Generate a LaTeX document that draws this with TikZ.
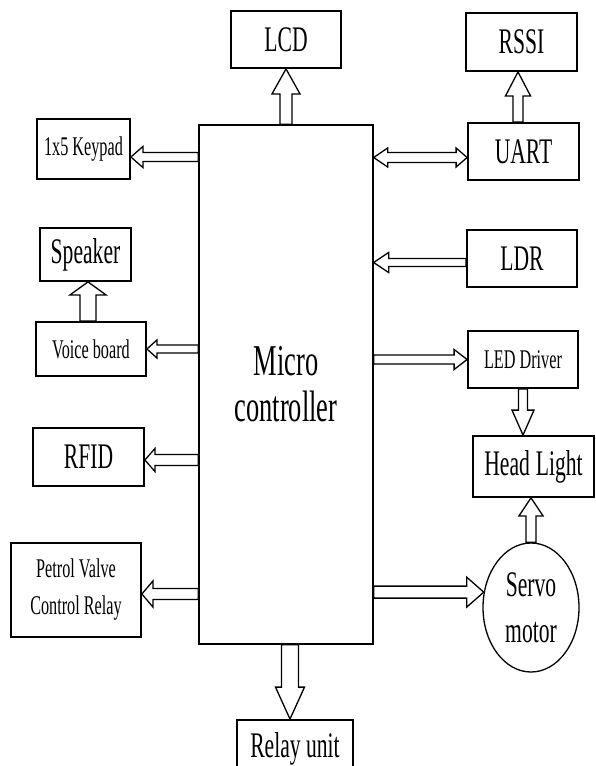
\documentclass[tikz,border=0pt]{standalone}
\usepackage{fontspec}
\setmainfont{Liberation Serif}[FakeStretch=0.6]
\usetikzlibrary{calc,shapes.geometric}

\newcommand\bigtxt{\fontsize{36}{46}\selectfont}
\newcommand\smalltxt{\fontsize{27}{37}\selectfont}
\newcommand\mctxt{\fontsize{44}{46}\selectfont}

% hollow block arrow: from #1 to #2, shaft half width #3, head half width #4, head length #5
\newcommand\blkarrow[5]{%
  \coordinate (bh) at ($(#2)!#5!(#1)$);
  \draw[arrowline] ($(#1)!#3!90:(#2)$) -- ($(bh)!#3!90:(#2)$) -- ($(bh)!#4!90:(#2)$) -- (#2)
    -- ($(bh)!#4!-90:(#2)$) -- ($(bh)!#3!-90:(#2)$) -- ($(#1)!#3!-90:(#2)$) -- cycle;
}
% same with a head at both ends, head lengths #5 and #6
\newcommand\dblarrow[6]{%
  \coordinate (ha) at ($(#1)!#5!(#2)$);
  \coordinate (hb) at ($(#2)!#6!(#1)$);
  \draw[arrowline] (#1) -- ($(ha)!#4!90:(#2)$) -- ($(ha)!#3!90:(#2)$) -- ($(hb)!#3!90:(#2)$)
    -- ($(hb)!#4!90:(#2)$) -- (#2) -- ($(hb)!#4!-90:(#2)$) -- ($(hb)!#3!-90:(#2)$)
    -- ($(ha)!#3!-90:(#2)$) -- ($(ha)!#4!-90:(#2)$) -- cycle;
}

\tikzset{
  box/.style={draw, line width=1.8pt, inner sep=0pt, align=center, font=\bigtxt},
  smallbox/.style={box, font=\smalltxt},
  arrowline/.style={draw, fill=white, line width=1.3pt, line join=miter},
}

\begin{document}
\begin{tikzpicture}[x=1pt,y=-1pt]
\useasboundingbox (0,0) rectangle (596,766);
\clip (0,0) rectangle (596,766);

\node[box, line width=1.3pt, minimum width=174pt, minimum height=519pt, font=\mctxt] (mc) at (286,384.5) {Micro\\controller};

\node[box, minimum width=110pt, minimum height=57pt] (lcd) at (286,39.5) {LCD};
\node[box, minimum width=111pt, minimum height=58pt] (rssi) at (521.5,42) {RSSI};
\node[box, minimum width=111pt, minimum height=57pt] (uart) at (523.5,151.5) {UART};
\node[box, minimum width=110pt, minimum height=57pt] (ldr) at (522,258.5) {LDR};
\node[smallbox, minimum width=110pt, minimum height=57pt] (ledd) at (523,359.5) {LED Driver};
\node[box, minimum width=121pt, minimum height=61pt] (head) at (533.5,466.5) {Head\,Light};
\node[box, ellipse, line width=1.3pt, minimum width=96pt, minimum height=129pt] (servo) at (531,607.5) {Servo\\motor};

\node[smallbox, minimum width=93pt, minimum height=60pt] (keypad) at (83.5,149) {1x5 Keypad};
\node[box, minimum width=91pt, minimum height=53pt] (speaker) at (85.5,254.5) {Speaker};
\node[smallbox, minimum width=110pt, minimum height=54pt] (voice) at (91,349) {Voice board};
\node[box, minimum width=111pt, minimum height=58pt] (rfid) at (88.5,457) {RFID};
\node[smallbox, minimum width=130pt, minimum height=94pt] (petrol) at (76,590) {Petrol Valve\\Control Relay};
\node[box, minimum width=116pt, minimum height=57pt] (relay) at (295,748.5) {Relay unit};

% arrow ends
\coordinate (lcdout) at (mc.north -| lcd.south);
\coordinate (rssiin) at ([xshift=-3.5pt]rssi.south);
\coordinate (uartout) at (uart.north -| rssiin);
\coordinate (uartin) at ([yshift=-6pt]uart.west);
\coordinate (uartmc) at (mc.east |- uartin);
\coordinate (kpin) at ([yshift=-8pt]keypad.east);
\coordinate (kpout) at (mc.west |- kpin);
\coordinate (ldrout) at ([yshift=-4pt]ldr.west);
\coordinate (ldrmc) at (mc.east |- ldrout);
\coordinate (spkin) at ([xshift=2.5pt]speaker.south);
\coordinate (voiceout) at (voice.north -| spkin);
\coordinate (vbout) at (mc.west |- voice.east);
\coordinate (rfidin) at ([yshift=-3pt]rfid.east);
\coordinate (rfidout) at (mc.west |- rfidin);
\coordinate (leddout) at (mc.east |- ledd.west);
\coordinate (headin) at (head.north -| ledd.south);
\coordinate (headin2) at (head.south -| servo.north);
\coordinate (svmc) at (mc.east |- servo.162);
\coordinate (petin) at ([yshift=-4pt]petrol.east);
\coordinate (petout) at (mc.west |- petin);
\coordinate (relayin) at ([xshift=-5pt]relay.north);
\coordinate (relayout) at (mc.south -| relayin);

\blkarrow{lcdout}{lcd.south}{6pt}{14pt}{25pt}
\blkarrow{uartout}{rssiin}{5pt}{12.5pt}{24pt}
\dblarrow{uartmc}{uartin}{5pt}{9.5pt}{14pt}{11pt}
\blkarrow{kpout}{kpin}{4.5pt}{10.5pt}{12pt}
\blkarrow{ldrout}{ldrmc}{4pt}{10pt}{15pt}
\blkarrow{voiceout}{spkin}{8pt}{18pt}{13pt}
\blkarrow{vbout}{voice.east}{4pt}{9pt}{10pt}
\blkarrow{rfidout}{rfidin}{5.5pt}{11.5pt}{10pt}
\blkarrow{leddout}{ledd.west}{4.5pt}{10pt}{13pt}
\blkarrow{ledd.south}{headin}{4.5pt}{11pt}{25pt}
\blkarrow{servo.north}{headin2}{5pt}{12pt}{18pt}
\blkarrow{svmc}{servo.162}{6pt}{15pt}{17pt}
\blkarrow{petout}{petin}{5.5pt}{13pt}{11pt}
\blkarrow{relayout}{relayin}{8.5pt}{14.5pt}{32pt}
\end{tikzpicture}
\end{document}
